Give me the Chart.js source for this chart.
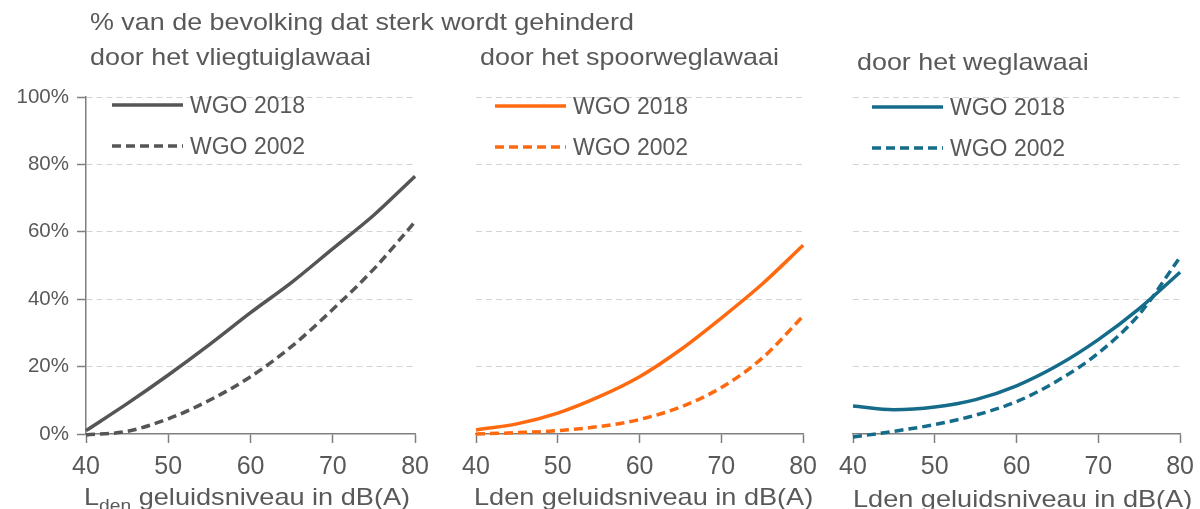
<!DOCTYPE html>
<html>
<head>
<meta charset="utf-8">
<script src="https://cdn.jsdelivr.net/npm/chart.js@4/dist/chart.umd.min.js"></script>
<style>
  body { margin: 0; background: #fff; width: 1200px; height: 509px; overflow: hidden; position: relative;
         font-family: "Liberation Sans", Arial, sans-serif; color: #595959; }
  .txt { position: absolute; white-space: nowrap; transform-origin: 0 50%; line-height: 1; }
  .title { font-size: 24px; transform: scaleX(1.12); }
  .xt { font-size: 24px; transform: scaleX(1.13); }
  .leg { position: absolute; font-size: 23px; line-height: 1; white-space: nowrap; }
  canvas { position: absolute; top: 0; }
  svg { position: absolute; overflow: visible; }
</style>
</head>
<body>
<canvas id="c1" width="438" height="509" style="left:0"></canvas>
<canvas id="c2" width="386" height="509" style="left:440px"></canvas>
<canvas id="c3" width="383" height="509" style="left:820px"></canvas>

<div class="txt title" style="left:90px;top:10px">% van de bevolking dat sterk wordt gehinderd</div>
<div class="txt title" style="left:90px;top:45px">door het vliegtuiglawaai</div>
<div class="txt title" style="left:480px;top:45px">door het spoorweglawaai</div>
<div class="txt title" style="left:857px;top:50px">door het weglawaai</div>

<div class="txt xt" style="left:84px;top:485px">L<sub style="font-size:17px">den</sub> geluidsniveau in dB(A)</div>
<div class="txt xt" style="left:474px;top:485px">Lden geluidsniveau in dB(A)</div>
<div class="txt xt" style="left:853px;top:487px">Lden geluidsniveau in dB(A)</div>

<div id="legends"></div>

<script>
// noise level (dB) on the x axis
const levels = [40, 45, 50, 55, 60, 65, 70, 75, 80];

// % strongly annoyed
const aircraft2018 = [1, 9, 17.5, 26.5, 36, 45, 55, 65, 76.5];
const aircraft2002 = [-0.3, 0.8, 4.5, 10, 17, 26, 37, 49, 63];
const rail2018 = [1.2, 3, 6.2, 11, 17, 25, 34.4, 44.5, 56];
const rail2002 = [0, 0.4, 1, 2.2, 4.3, 8, 13.8, 22.5, 35];
const road2018 = [8.3, 7.2, 8, 10.2, 14.3, 20.3, 28, 37.2, 48];
const road2002 = [-0.9, 0.8, 2.8, 5.6, 9.6, 15.8, 24, 35.5, 52.5];

const yTicks = [0, 20, 40, 60, 80, 100];
const xTicks = [40, 50, 60, 70, 80];
const seriesNames = ["WGO 2018", "WGO 2002"];

const textColor = "#595959";
const axisColor = "#7f7f7f";
const gridColor = "#d4d4d4";

function toPoints(values) {
  return levels.map((x, i) => ({ x: x, y: values[i] }));
}

function makeChart(id, color, solid, dashed, leftWidth, showY) {
  const ctx = document.getElementById(id).getContext("2d");
  return new Chart(ctx, {
    type: "line",
    data: {
      datasets: [
        {
          label: seriesNames[0],
          data: toPoints(solid),
          borderColor: color,
          borderWidth: 3.5,
          pointRadius: 0,
          cubicInterpolationMode: "monotone",
          clip: false,
        },
        {
          label: seriesNames[1],
          data: toPoints(dashed),
          borderColor: color,
          borderWidth: 3.5,
          borderDash: [9, 5],
          pointRadius: 0,
          cubicInterpolationMode: "monotone",
          clip: false,
        },
      ],
    },
    options: {
      responsive: false,
      animation: false,
      layout: { padding: { top: 97, right: 0, bottom: 0, left: 0 } },
      plugins: { legend: { display: false }, tooltip: { enabled: false } },
      scales: {
        x: {
          type: "linear",
          min: 40,
          max: 80,
          afterBuildTicks: (s) => { s.ticks = xTicks.map((v) => ({ value: v })); },
          afterFit: (s) => { s.height = 75; },
          grid: { drawOnChartArea: false, drawTicks: true, tickLength: 9, tickColor: axisColor, tickWidth: 1.5 },
          border: { color: axisColor, width: 1.5 },
          ticks: { color: textColor, font: { family: "Liberation Sans", size: 25 }, padding: 9, maxRotation: 0 },
        },
        y: {
          min: 0,
          max: 100,
          afterBuildTicks: (s) => { s.ticks = yTicks.map((v) => ({ value: v })); },
          afterFit: (s) => { s.width = leftWidth; },
          grid: {
            color: (c) => (c.tick && c.tick.value === 0 ? "rgba(0,0,0,0)" : gridColor),
            lineWidth: 1,
            drawTicks: showY,
            tickLength: 9,
            tickColor: axisColor,
            tickWidth: 1.5,
          },
          border: { display: showY, color: axisColor, width: 1.5, dash: [6, 4] },
          ticks: {
            display: showY,
            color: textColor,
            font: { family: "Liberation Sans", size: 20.5 },
            padding: 8,
            callback: (v) => v + "%",
          },
        },
      },
    },
  });
}

makeChart("c1", "#555555", aircraft2018, aircraft2002, 86, true);
makeChart("c2", "#ff6a10", rail2018, rail2002, 36, false);
makeChart("c3", "#146c8a", road2018, road2002, 33, false);

// legends inside each panel
const legendSpots = [
  { x: 112, y: 105, color: "#555555" },
  { x: 495, y: 106, color: "#ff6a10" },
  { x: 872, y: 107, color: "#146c8a" },
];
const holder = document.getElementById("legends");
legendSpots.forEach((spot) => {
  seriesNames.forEach((name, i) => {
    const y = spot.y + i * 41;
    const dash = i === 1 ? 'stroke-dasharray="9,5"' : "";
    holder.insertAdjacentHTML(
      "beforeend",
      `<svg style="left:${spot.x}px;top:${y - 2}px" width="72" height="4">
         <line x1="0" y1="2" x2="71" y2="2" stroke="${spot.color}" stroke-width="3.5" ${dash}/></svg>
       <div class="leg" style="left:${spot.x + 78}px;top:${y - 11}px">${name}</div>`
    );
  });
});
</script>
</body>
</html>
